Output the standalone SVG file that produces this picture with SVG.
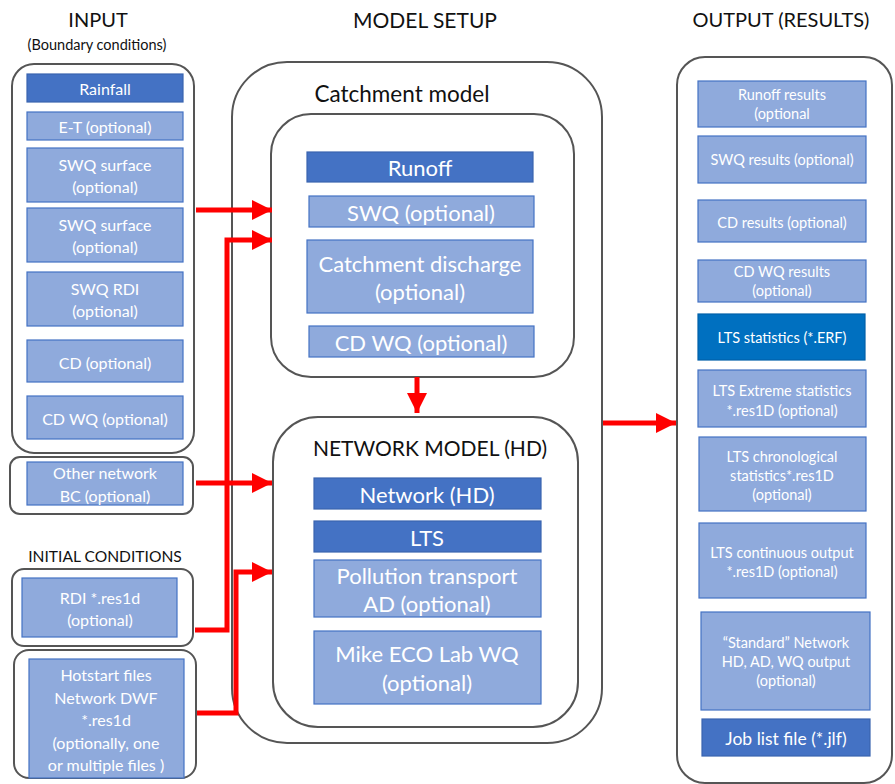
<svg xmlns="http://www.w3.org/2000/svg" width="895" height="784" viewBox="0 0 895 784">
<defs>
<marker id="ah" markerUnits="userSpaceOnUse" markerWidth="22" markerHeight="22" refX="20" refY="10" orient="auto">
<path d="M0,0 L20,10 L0,20 z" fill="#FF0000"/>
</marker>
<style>
text{font-family:Lato,"Open Sans","Liberation Sans",sans-serif;text-anchor:middle;dominant-baseline:central}
.title{font-size:20px;fill:#111}
.sub{font-size:14.5px;fill:#111}
.frame{fill:#fff;stroke:#555;stroke-width:2}
.lt{fill:#8FAADC;stroke:#4472C4;stroke-width:1.2}
.dk{fill:#4472C4;stroke:#3A64B0;stroke-width:1.2}
.db{fill:#0070C0;stroke:#0060A8;stroke-width:1.2}
.t{fill:#fff}
.s15{font-size:16px}
.s19{font-size:22px}
.s13{font-size:14.5px}
.conn{fill:none;stroke:#FF0000;stroke-width:5}
</style>
</defs>
<rect width="895" height="784" fill="#fff"/>

<text class="title" x="98" y="19">INPUT</text>
<text class="sub" x="97" y="44">(Boundary conditions)</text>
<text class="title" x="425" y="19" style="font-size:21px">MODEL SETUP</text>
<text class="title" x="781" y="19">OUTPUT (RESULTS)</text>
<text x="105" y="556" style="font-size:15.6px;fill:#111">INITIAL CONDITIONS</text>

<g id="input">
<rect class="frame" x="12" y="64" width="182" height="389" rx="22"/>
<g id="rainfall"><rect class="dk" x="27" y="74" width="156" height="28"/><text class="t s15" x="105" y="88">Rainfall</text></g>
<g id="et"><rect class="lt" x="27" y="112" width="156" height="28"/><text class="t s15" x="105" y="126">E-T (optional)</text></g>
<g id="swq-surface-1"><rect class="lt" x="27" y="148" width="156" height="54"/><text class="t s15" x="105" y="164">SWQ surface</text><text class="t s15" x="105" y="186">(optional)</text></g>
<g id="swq-surface-2"><rect class="lt" x="27" y="208" width="156" height="54"/><text class="t s15" x="105" y="224">SWQ surface</text><text class="t s15" x="105" y="246">(optional)</text></g>
<g id="swq-rdi"><rect class="lt" x="27" y="272" width="156" height="54"/><text class="t s15" x="105" y="288">SWQ RDI</text><text class="t s15" x="105" y="310">(optional)</text></g>
<g id="cd"><rect class="lt" x="27" y="340" width="156" height="42"/><text class="t s15" x="105" y="362">CD (optional)</text></g>
<g id="cd-wq"><rect class="lt" x="27" y="396" width="156" height="43"/><text class="t s15" x="105" y="418">CD WQ (optional)</text></g>
</g>

<g id="other-network">
<rect class="frame" x="10" y="457" width="183" height="57" rx="10"/>
<rect class="lt" x="27" y="462" width="156" height="43"/>
<text class="t s15" x="105" y="472">Other network</text><text class="t s15" x="105" y="495">BC (optional)</text>
</g>

<g id="rdi">
<rect class="frame" x="12" y="569" width="181" height="77" rx="12"/>
<rect class="lt" x="22" y="578" width="155" height="59"/>
<text class="t s15" x="100" y="597">RDI *.res1d</text><text class="t s15" x="100" y="619">(optional)</text>
</g>

<g id="hotstart">
<rect class="frame" x="14" y="650" width="182" height="128" rx="15"/>
<rect class="lt" x="29" y="659" width="155" height="119"/>
<text class="t s15" x="106" y="674">Hotstart files</text>
<text class="t s15" x="106" y="697">Network DWF</text>
<text class="t s15" x="106" y="719">*.res1d</text>
<text class="t s15" x="106" y="742">(optionally, one</text>
<text class="t s15" x="106" y="764">or multiple files )</text>
</g>

<g id="model-setup">
<rect class="frame" x="232" y="62" width="370" height="681" rx="55"/>
</g>

<g id="catchment">
<text class="title" x="402" y="93" style="font-size:22.5px">Catchment model</text>
<rect class="frame" x="271" y="114" width="303" height="263" rx="40"/>
<g id="runoff"><rect class="dk" x="307" y="152" width="226" height="30"/><text class="t s19" x="420" y="167">Runoff</text></g>
<g id="swq"><rect class="lt" x="309" y="196" width="225" height="31"/><text class="t s19" x="421" y="212">SWQ (optional)</text></g>
<g id="catchment-discharge"><rect class="lt" x="307" y="240" width="226" height="73"/><text class="t s19" x="420" y="263">Catchment discharge</text><text class="t s19" x="420" y="291">(optional)</text></g>
<g id="cd-wq-c"><rect class="lt" x="309" y="326" width="225" height="31"/><text class="t s19" x="421" y="342">CD WQ (optional)</text></g>
</g>

<g id="network">
<rect class="frame" x="273" y="417" width="305" height="310" rx="45"/>
<text class="title" x="430" y="447" style="font-size:21px">NETWORK MODEL (HD)</text>
<g id="network-hd"><rect class="dk" x="314" y="478" width="227" height="31"/><text class="t s19" x="427" y="494">Network (HD)</text></g>
<g id="lts"><rect class="dk" x="314" y="521" width="227" height="31"/><text class="t s19" x="427" y="537">LTS</text></g>
<g id="pollution"><rect class="lt" x="314" y="560" width="227" height="57"/><text class="t s19" x="427" y="575">Pollution transport</text><text class="t s19" x="427" y="603">AD (optional)</text></g>
<g id="eco-lab"><rect class="lt" x="314" y="631" width="227" height="73"/><text class="t s19" x="427" y="653">Mike ECO Lab WQ</text><text class="t s19" x="427" y="682">(optional)</text></g>
</g>

<g id="output">
<rect class="frame" x="677" y="57" width="215" height="726" rx="28"/>
<g id="runoff-results"><rect class="lt" x="698" y="81" width="168" height="46"/><text class="t s13" x="782" y="94">Runoff results</text><text class="t s13" x="782" y="113">(optional</text></g>
<g id="swq-results"><rect class="lt" x="698" y="136" width="168" height="47"/><text class="t s13" x="782" y="159">SWQ results (optional)</text></g>
<g id="cd-results"><rect class="lt" x="698" y="200" width="168" height="42"/><text class="t s13" x="782" y="222">CD results (optional)</text></g>
<g id="cdwq-results"><rect class="lt" x="698" y="260" width="168" height="42"/><text class="t s13" x="782" y="271">CD WQ results</text><text class="t s13" x="782" y="290">(optional)</text></g>
<g id="lts-stats"><rect class="db" x="698" y="314" width="167" height="46"/><text class="t s13" x="782" y="337">LTS statistics (*.ERF)</text></g>
<g id="lts-extreme"><rect class="lt" x="698" y="370" width="168" height="57"/><text class="t s13" x="782" y="390">LTS Extreme statistics</text><text class="t s13" x="782" y="410">*.res1D (optional)</text></g>
<g id="lts-chrono"><rect class="lt" x="699" y="437" width="167" height="74"/><text class="t s13" x="782" y="456">LTS chronological</text><text class="t s13" x="782" y="475">statistics*.res1D</text><text class="t s13" x="782" y="494">(optional)</text></g>
<g id="lts-continuous"><rect class="lt" x="699" y="523" width="167" height="75"/><text class="t s13" x="782" y="552">LTS continuous output</text><text class="t s13" x="782" y="571">*.res1D (optional)</text></g>
<g id="standard"><rect class="lt" x="701" y="612" width="169" height="98"/><text class="t s13" x="786" y="642">“Standard” Network</text><text class="t s13" x="786" y="661">HD, AD, WQ output</text><text class="t s13" x="786" y="680">(optional)</text></g>
<g id="job-list"><rect class="dk" x="702" y="719" width="168" height="37"/><text class="t" x="786" y="738" style="font-size:17.5px">Job list file (*.jlf)</text></g>
</g>

<g id="connectors">
<path class="conn" d="M196,210 L272,210" marker-end="url(#ah)"/>
<path class="conn" d="M195,630 L227,630 L227,240 L272,240" marker-end="url(#ah)"/>
<path class="conn" d="M196,483 L272,483" marker-end="url(#ah)"/>
<path class="conn" d="M197,713 L236,713 L236,572 L272,572" marker-end="url(#ah)"/>
<path class="conn" d="M417,377 L417,413" marker-end="url(#ah)"/>
<path class="conn" d="M603,423 L676,423" marker-end="url(#ah)"/>
</g>
</svg>
